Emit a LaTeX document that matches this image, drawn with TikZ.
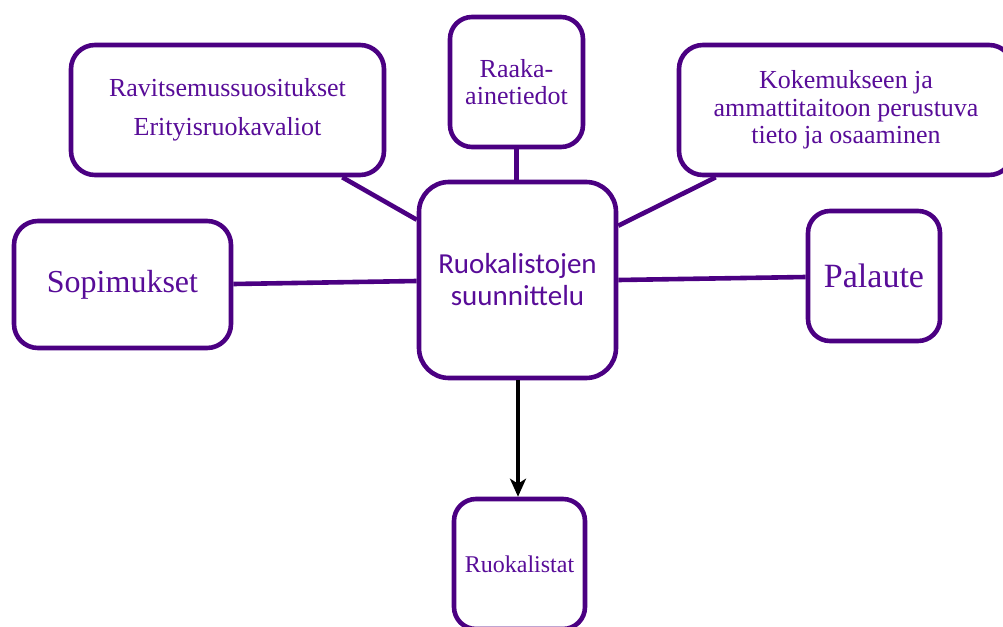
\documentclass[tikz,border=0pt]{standalone}
\usepackage{fontspec}
\setmainfont{Liberation Serif}
\newfontfamily\calib{Carlito}
\usetikzlibrary{arrows.meta,calc}
\definecolor{bord}{RGB}{75,0,130}
\definecolor{txt}{RGB}{88,12,152}
\tikzset{
  box/.style={draw=bord, line width=4.6pt, rounded corners=24pt, fill=white,
    inner sep=0pt, align=center, text=txt},
  link/.style={draw=bord, line width=4.6pt},
  flow/.style={draw=black, line width=4.4pt, -{Stealth[length=18pt,width=16pt,inset=5pt]}}
}
\begin{document}
\begin{tikzpicture}[x=1pt,y=-1pt]
\useasboundingbox (0,0) rectangle (1003,626);
\clip (0,0) rectangle (1003,626);
\node[box, minimum width=313pt, minimum height=130pt,
  font=\fontsize{26}{39}\selectfont] (rav) at (227.5,110) {Ravitsemussuositukset\\Erityisruokavaliot};
\node[box, minimum width=133pt, minimum height=130pt, rounded corners=22pt,
  font=\fontsize{26}{27}\selectfont] (raa) at (516.5,82) {Raaka-\\ainetiedot};
\node[box, minimum width=334pt, minimum height=130pt,
  font=\fontsize{26}{27.5}\selectfont] (kok) at (846,110) {Kokemukseen ja\\ammattitaitoon perustuva\\tieto ja osaaminen};
\node[box, minimum width=217pt, minimum height=127pt,
  font=\fontsize{32}{38}\selectfont] (sop) at (122.5,284.5) {Sopimukset};
\node[box, minimum width=197pt, minimum height=196pt, rounded corners=30pt,
  font=\calib\fontsize{29}{32}\selectfont] (ctr) at (517.5,280) {Ruokalistojen\\suunnittelu};
\node[box, minimum width=132pt, minimum height=130pt, rounded corners=22pt,
  font=\fontsize{34}{40}\selectfont] (pal) at (874,276) {Palaute};
\node[box, minimum width=131pt, minimum height=130pt, rounded corners=22pt,
  font=\fontsize{24}{28}\selectfont] (ruo) at (519.5,564) {Ruokalistat};
\draw[link] ($(rav.south east)+(-44,0)$) -- ($(ctr.north west)+(0,40)$);
\draw[link] (raa.south) -- (raa.south |- ctr.north);
\draw[link] ($(kok.south west)+(39,0)$) -- ($(ctr.north east)+(0,46)$);
\draw[link] ($(sop.east)+(0,-0.5)$) -- ($(ctr.west)+(0,1)$);
\draw[link] (ctr.east) -- ($(pal.west)+(0,1)$);
\draw[flow] ($(ctr.south)+(0.5,0)$) -- ($(ruo.north)+(-1.5,0)$);
\end{tikzpicture}
\end{document}
